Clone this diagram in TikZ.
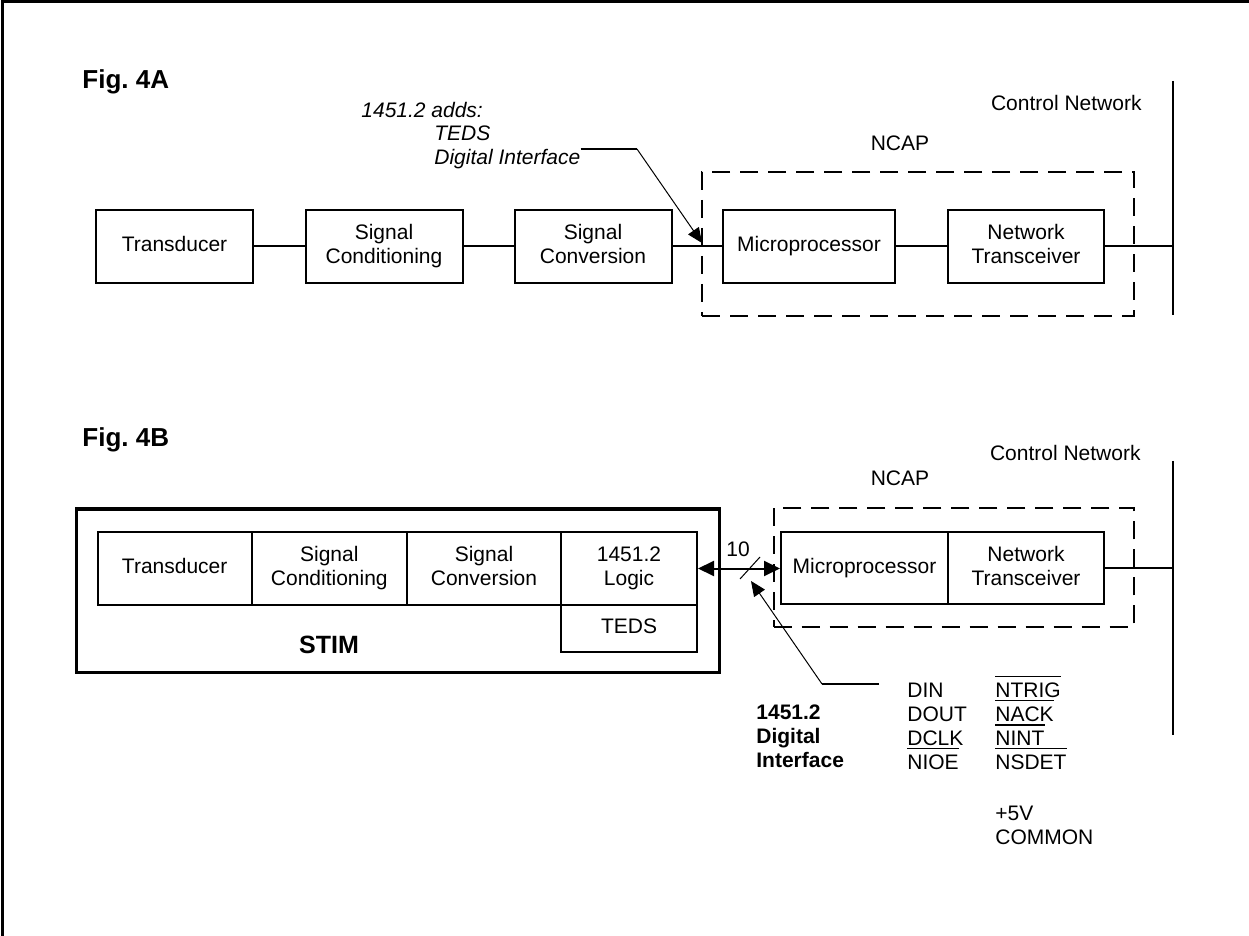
\documentclass[tikz,border=0pt]{standalone}
\usepackage{fontspec}
\setmainfont{Liberation Sans}
\usetikzlibrary{arrows.meta}
\newcommand\ovl[1]{\vbox{\hrule height 0.9pt\kern 2.5pt\hbox{#1}}}
\newcommand\ph{\rule[-2.2pt]{0pt}{8.7pt}}
\frenchspacing
\begin{document}
\begin{tikzpicture}[x=0.5pt,y=-0.5pt,
  every node/.style={font=\fontsize{10.5}{12}\selectfont},
  box/.style={draw, line width=1pt, inner sep=0pt, align=center, minimum height=36.5pt},
  txt/.style={inner sep=0pt},
  itl/.style={inner sep=0pt, anchor=base west, font=\fontsize{10.5}{12}\selectfont\itshape},
  bld/.style={inner sep=0pt, anchor=base west, font=\fontsize{10.5}{12}\selectfont\bfseries},
  sig/.style={inner sep=0pt, anchor=base west},
  dash box/.style={draw, line width=1pt, dash pattern=on 9pt off 5pt, inner sep=0pt},
  wire/.style={line width=1pt},
  thin wire/.style={line width=0.5pt},
  bus/.style={line width=1.2pt},
  tip/.style={-{Triangle[length=7.5pt,width=6.5pt]}},
  fig/.style={font=\fontsize{13}{15}\selectfont\bfseries, inner sep=0pt, anchor=base west}
]
\useasboundingbox (0,0) rectangle (1249,936);
% frame
\coordinate (fr1) at (2,936);
\coordinate (fr2) at (2,2);
\coordinate (fr3) at (1249,2);
\draw[line width=1.5pt] (fr1) -- (fr2) -- (fr3);

% ---------------- Fig. 4A ----------------
\node[fig] (figA) at (82,89) {Fig.\ 4A};
\node[dash box, minimum width=216pt, minimum height=72pt] (ncapA) at (918,244) {};
\node[box, minimum width=78.5pt] (tA) at (174.5,246.5) {Transducer\ph};
\node[box, minimum width=78.5pt] (scA) at (384,246.5) {Signal\ph\\Conditioning\ph};
\node[box, minimum width=78.5pt] (svA) at (593,246.5) {Signal\ph\\Conversion\ph};
\node[box, minimum width=86pt] (mpA) at (809,246.5) {Microprocessor\ph};
\node[box, minimum width=78pt] (ntA) at (1026,246.5) {Network\ph\\Transceiver\ph};
\draw[wire] (tA) -- (scA);
\draw[wire] (scA) -- (svA);
\draw[wire] (svA) -- (mpA);
\draw[wire] (mpA) -- (ntA);
\coordinate (busAt) at (1173,81);
\coordinate (busAb) at (1173,315);
\draw[bus] (busAt) -- (busAb);
\draw[wire] (ntA.east) -- (ntA.east -| busAt);
\node[txt, anchor=base east] (cnA) at (1142,110.5) {Control Network};
\node[txt, anchor=base] (ncA) at (900,150.5) {NCAP};
\node[itl] (addA) at (361,117.5) {1451.2 adds:};
\node[itl] (tedsA) at (434,140.5) {TEDS};
\node[itl] (diA) at (434,165) {Digital Interface};
\coordinate (pA1) at (582,149);
\coordinate (pA2) at (637,149);
\coordinate (pA3) at (702,243);
\draw[wire] (diA.east |- pA1) -- (pA2);
\draw[thin wire, tip] (pA2) -- (pA3);

% ---------------- Fig. 4B ----------------
\node[fig] (figB) at (82,447) {Fig.\ 4B};
\node[box, line width=1.5pt, minimum width=321.75pt, minimum height=81.5pt] (stim) at (398,590.5) {};
\node[box, minimum width=77pt] (tB) at (174.7,568.5) {Transducer\ph};
\node[box, minimum width=77.6pt] (scB) at (329.3,568.5) {Signal\ph\\Conditioning\ph};
\node[box, minimum width=77pt] (svB) at (484,568.5) {Signal\ph\\Conversion\ph};
\node[box, minimum width=68pt] (lgB) at (629,568.5) {1451.2\ph\\Logic\ph};
\node[box, minimum width=68pt, minimum height=23.5pt] (teds) at (629,628.5) {TEDS\ph};
\node[txt, font=\fontsize{12.5}{14}\selectfont\bfseries] (stimL) at (329,645) {STIM};

\node[dash box, minimum width=180.2pt, minimum height=59.5pt] (ncapB) at (953.8,567.5) {};
\node[box, minimum width=83.5pt, minimum height=36pt] (mpB) at (864.5,568) {Microprocessor\ph};
\node[box, minimum width=78pt, minimum height=36pt] (ntB) at (1026,568) {Network\ph\\Transceiver\ph};
\coordinate (busBt) at (1173,461);
\coordinate (busBb) at (1173,735);
\draw[bus] (busBt) -- (busBb);
\draw[wire] (ntB.east) -- (ntB.east -| busBt);
\node[txt, anchor=base east] (cnB) at (1141,460.5) {Control Network};
\node[txt, anchor=base] (ncB) at (900,485.5) {NCAP};

\draw[wire, {Triangle[length=8pt,width=7.5pt]}-{Triangle[length=8pt,width=7.5pt]}] (lgB.east) -- (lgB.east -| mpB.west);
\coordinate (s1) at (740,579);
\coordinate (s2) at (760,557);
\draw[thin wire] (s1) -- (s2);
\node[txt] (ten) at (738,549) {10};

\coordinate (pB1) at (879,684);
\coordinate (pB2) at (822,684);
\coordinate (pB3) at (751,581);
\draw[wire] (pB1) -- (pB2);
\draw[thin wire, tip] (pB2) -- (pB3);

\node[bld] (di1) at (756,719.5) {1451.2};
\node[bld] (di2) at (756,743.5) {Digital};
\node[bld] (di3) at (756,767) {Interface};

\node[sig] (c11) at (907,697) {DIN};
\node[sig] (c12) at (907,721) {DOUT};
\node[sig] (c13) at (907,745) {DCLK};
\node[sig] (c14) at (907,769) {\ovl{NIOE}};

\node[sig] (c21) at (995,697) {\ovl{NTRIG}};
\node[sig] (c22) at (995,721) {\ovl{NACK}};
\node[sig] (c23) at (995,745) {\ovl{NINT\hspace{0.5pt}}};
\node[sig] (c24) at (995,769) {\ovl{NSDET}};
\node[sig] (p5) at (995,820) {+5V};
\node[sig] (com) at (995,844) {COMMON};
\end{tikzpicture}
\end{document}
